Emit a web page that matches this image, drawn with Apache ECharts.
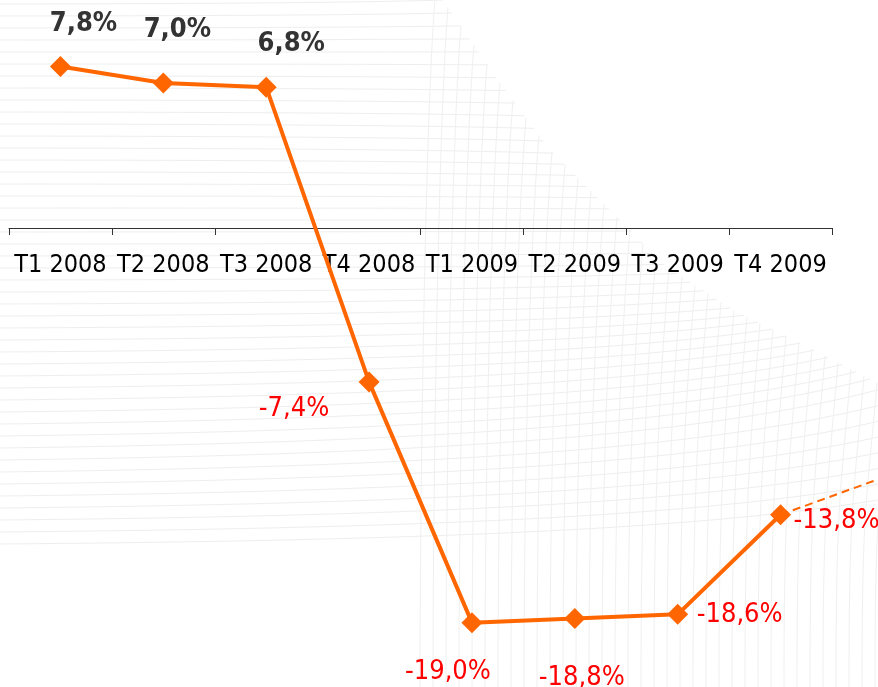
<!DOCTYPE html>
<html>
<head>
<meta charset="utf-8">
<script src="https://cdn.jsdelivr.net/npm/echarts@6/dist/echarts.min.js"></script>
<style>
  html, body { margin: 0; padding: 0; background: #fff; }
  #main { width: 878px; height: 687px; }
</style>
</head>
<body>
<div id="main"></div>
<script>
// trimestres et croissance (%)
var categories = ['T1 2008', 'T2 2008', 'T3 2008', 'T4 2008', 'T1 2009', 'T2 2009', 'T3 2009', 'T4 2009'];
var growth = [7.8, 7.0, 6.8, -7.4, -19.0, -18.8, -18.6, -13.8];
// prolongement en pointillés vers le trimestre suivant (hors cadre)
var projection = [null, null, null, null, null, null, null, -13.8, -12.0];

// décalage des étiquettes par point [dx, dy]
var labelOffsets = [[23, -42], [14, -53], [25, -43], [-75, 27], [-24, 49], [7, 59], [62, 1], [56, 6]];

var chart = echarts.init(document.getElementById('main'));

// ---- fond : maillage gris très clair (décor) ----
var edge = [[443, 0], [500, 83], [550, 150], [607, 207], [667, 267], [733, 310], [800, 343], [878, 383], [878, 500]];
function edgeAt(t) {
    var lens = [], total = 0;
    for (var k = 1; k < edge.length; k++) {
        var l = Math.hypot(edge[k][0] - edge[k - 1][0], edge[k][1] - edge[k - 1][1]);
        lens.push(l); total += l;
    }
    var d = t * total;
    for (var k = 0; k < lens.length; k++) {
        if (d <= lens[k] || k === lens.length - 1) {
            var f = Math.min(1, d / lens[k]);
            return [edge[k][0] + f * (edge[k + 1][0] - edge[k][0]), edge[k][1] + f * (edge[k + 1][1] - edge[k][1])];
        }
        d -= lens[k];
    }
}
function edgeY(x) {
    if (x <= edge[0][0]) return 0;
    for (var k = 1; k < edge.length; k++) {
        if (x <= edge[k][0]) {
            var f = (x - edge[k - 1][0]) / (edge[k][0] - edge[k - 1][0]);
            return edge[k - 1][1] + f * (edge[k][1] - edge[k - 1][1]);
        }
    }
    return 383;
}
var bg = [];
var nH = 46;
for (var i = 0; i < nH; i++) {
    var y0 = 4 + i * 12;
    var e = edgeAt(i / (nH - 1));
    bg.push({
        type: 'bezierCurve', silent: true, z: -10,
        shape: { x1: 0, y1: y0, x2: e[0], y2: e[1],
                 cpx1: e[0] * 0.5, cpy1: y0 - 0.08 * (y0 - e[1]),
                 cpx2: e[0] * 0.8, cpy2: y0 - 0.35 * (y0 - e[1]) },
        style: { stroke: '#eeeeee', lineWidth: 1, fill: null }
    });
}
for (var x0 = 420; x0 < 880; x0 += 13) {
    var yTop = edgeY(x0 + 15);
    bg.push({
        type: 'bezierCurve', silent: true, z: -10,
        shape: { x1: x0, y1: 687, x2: x0 + 15, y2: yTop,
                 cpx1: x0, cpy1: 500, cpx2: x0 + 5, cpy2: yTop + 120 },
        style: { stroke: '#f0f0f0', lineWidth: 1, fill: null }
    });
}

var labelFont = '"DejaVu Sans Condensed", "DejaVu Sans", sans-serif';

var option = {
    backgroundColor: '#fff',
    animation: false,
    graphic: bg,
    grid: [
        // axe des trimestres, posé sur le zéro
        { left: 9, width: 823, top: 0, height: 228, outerBoundsMode: 'none', containLabel: false },
        // courbe
        { left: 9, width: 823, top: 0, height: 687, outerBoundsMode: 'none', containLabel: false },
        // pointillés (un trimestre de plus)
        { left: 9, width: 823 * 9 / 8, top: 0, height: 687, outerBoundsMode: 'none', containLabel: false }
    ],
    xAxis: [
        {
            type: 'category',
            gridIndex: 0,
            data: categories,
            position: 'bottom',
            axisLine: { onZero: false, lineStyle: { color: '#333', width: 1 } },
            axisTick: { show: true, length: 7, lineStyle: { color: '#333' } },
            axisLabel: {
                show: true, interval: 0, margin: 25,
                color: '#000', fontSize: 25, fontFamily: labelFont
            },
            splitLine: { show: false }
        },
        { type: 'category', gridIndex: 1, data: categories, show: false },
        { type: 'category', gridIndex: 2, data: categories.concat(['']), show: false }
    ],
    yAxis: [
        { type: 'value', gridIndex: 0, show: false, splitLine: { show: false } },
        { type: 'value', gridIndex: 1, min: -22.1, max: 11, show: false, splitLine: { show: false } },
        { type: 'value', gridIndex: 2, min: -22.1, max: 11, show: false, splitLine: { show: false } }
    ],
    series: [
        {
            type: 'line',
            xAxisIndex: 2,
            yAxisIndex: 2,
            data: projection,
            symbol: 'none',
            lineStyle: { color: '#FF6600', width: 2, type: [8, 5] },
            z: 1
        },
        {
            type: 'line',
            xAxisIndex: 1,
            yAxisIndex: 1,
            data: growth.map(function (v, k) {
                var pos = v >= 0;
                return {
                    value: v,
                    label: {
                        offset: labelOffsets[k],
                        color: pos ? '#333' : '#FF0000',
                        fontWeight: pos ? 'bold' : 'normal'
                    }
                };
            }),
            symbol: 'diamond',
            symbolSize: 21,
            itemStyle: { color: '#FF6600' },
            lineStyle: { color: '#FF6600', width: 4 },
            label: {
                show: true,
                position: 'inside',
                align: 'center',
                verticalAlign: 'middle',
                fontSize: 27,
                fontFamily: labelFont,
                formatter: function (p) {
                    return p.value.toFixed(1).replace('.', ',') + '%';
                }
            },
            z: 3
        }
    ]
};

chart.setOption(option);
</script>
</body>
</html>
